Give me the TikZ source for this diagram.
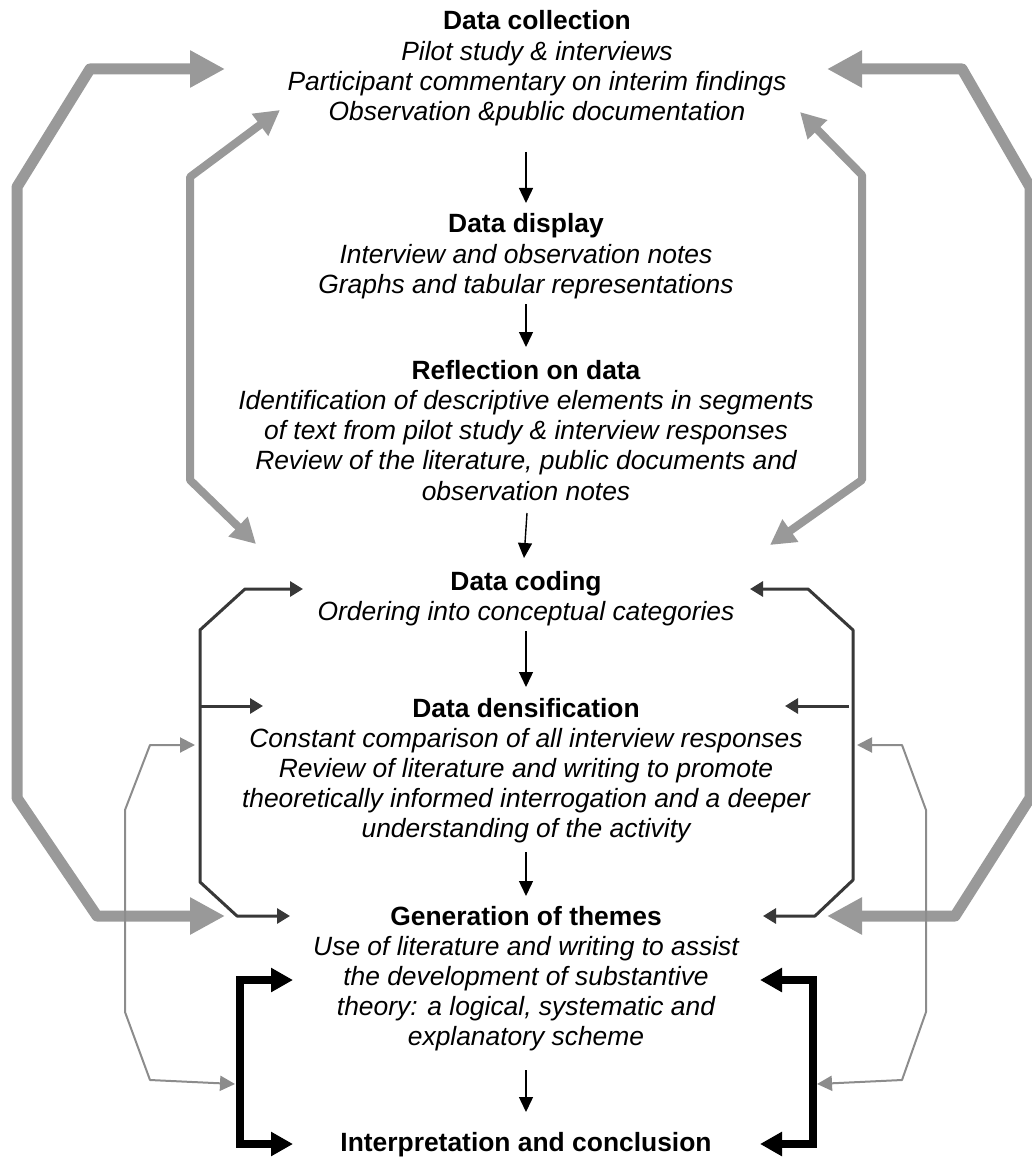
\documentclass[tikz,border=0pt]{standalone}
\usepackage{fontspec}
\setmainfont{Liberation Sans}
\usetikzlibrary{arrows.meta}
\definecolor{loopgray}{HTML}{999999}
\definecolor{thingray}{HTML}{8C8C8C}
\definecolor{darkline}{HTML}{383838}
\begin{document}
\begin{tikzpicture}[x=1pt,y=-1pt,
  head/.style={font=\fontsize{26.4}{30}\selectfont\bfseries, inner sep=0pt, anchor=base},
  body/.style={font=\fontsize{26.4}{30}\selectfont\itshape, inner sep=0pt, anchor=base},
  flow/.style={line width=1.4pt, -{Triangle[length=15pt,width=14pt]}},
  bigloop/.style={draw=loopgray, line width=11pt, line join=round,
    {Triangle[length=35pt,width=35pt]}-{Triangle[length=35pt,width=35pt]}},
  midloop/.style={draw=loopgray, line width=8pt, line join=round,
    {Triangle[length=25pt,width=26pt]}-{Triangle[length=25pt,width=26pt]}},
  thinloop/.style={draw=thingray, line width=2pt, line join=round,
    {Triangle[length=15pt,width=15pt]}-{Triangle[length=15pt,width=15pt]}},
  darkloop/.style={draw=darkline, line width=3pt, line join=round,
    {Triangle[length=13pt,width=15pt]}-{Triangle[length=13pt,width=15pt]}},
  darkbranch/.style={draw=darkline, line width=3pt, -{Triangle[length=13pt,width=15pt]}},
  blackloop/.style={draw=black, line width=8pt, line join=miter,
    {Triangle[length=22pt,width=23pt]}-{Triangle[length=22pt,width=23pt]}}
]
\useasboundingbox (0,0) rectangle (1032,1158);

% ---- stages ----
\node[head] (dc)  at (537,30)  {Data collection};
\node[body] (dc1) at (537,61)  {Pilot study \& interviews};
\node[body] (dc2) at (537,91)  {Participant commentary on interim findings};
\node[body] (dc3) at (537,121) {Observation \&public documentation};

\node[head] (dd)  at (526,233) {Data display};
\node[body] (dd1) at (526,263) {Interview and observation notes};
\node[body] (dd2) at (526,293) {Graphs and tabular representations};

\node[head] (rd)  at (526,379) {Reflection on data};
\node[body] (rd1) at (526,409) {Identification of descriptive elements in segments};
\node[body] (rd2) at (526,439) {of text from pilot study \& interview responses};
\node[body] (rd3) at (526,469) {Review of the literature, public documents and};
\node[body] (rd4) at (526,500) {observation notes};

\node[head] (co)  at (526,590) {Data coding};
\node[body] (co1) at (526,620) {Ordering into conceptual categories};

\node[head] (de)  at (526,717) {Data densification};
\node[body] (de1) at (526,747) {Constant comparison of all interview responses};
\node[body] (de2) at (526,777) {Review of literature and writing to promote};
\node[body] (de3) at (526,807) {theoretically informed interrogation and a deeper};
\node[body] (de4) at (526,837) {understanding of the activity};

\node[head] (gt)  at (526,925)  {Generation of themes};
\node[body] (gt1) at (526,955)  {Use of literature and writing to assist};
\node[body] (gt2) at (526,985)  {the development of substantive};
\node[body] (gt3) at (526,1015) {theory: a logical, systematic and};
\node[body] (gt4) at (526,1045) {explanatory scheme};

\node[head] (ic)  at (526,1151) {Interpretation and conclusion};

% ---- main sequence ----
\coordinate (s1a) at (526,152);  \coordinate (s1b) at (526,203);
\coordinate (s2a) at (526,304);  \coordinate (s2b) at (526,347);
\coordinate (s3a) at (527,513);  \coordinate (s3b) at (524,558);
\coordinate (s4a) at (526,631);  \coordinate (s4b) at (526,687);
\coordinate (s5a) at (526,852);  \coordinate (s5b) at (526,896);
\coordinate (s6a) at (526,1070); \coordinate (s6b) at (526,1112);
\foreach \a/\b in {s1a/s1b,s2a/s2b,s3a/s3b,s4a/s4b,s5a/s5b,s6a/s6b}
  \draw[flow] (\a) -- (\b);

% ---- outer loop: themes back to data collection ----
\coordinate (ol1) at (225,69);  \coordinate (ol2) at (90,69);
\coordinate (ol3) at (17,187);  \coordinate (ol4) at (17,798);
\coordinate (ol5) at (97,916);  \coordinate (ol6) at (225,916);
\draw[bigloop] (ol1) -- (ol2) -- (ol3) -- (ol4) -- (ol5) -- (ol6);
\coordinate (or1) at (827,69);  \coordinate (or2) at (962,69);
\coordinate (or3) at (1030,187); \coordinate (or4) at (1030,798);
\coordinate (or5) at (955,916); \coordinate (or6) at (827,916);
\draw[bigloop] (or1) -- (or2) -- (or3) -- (or4) -- (or5) -- (or6);

% ---- loop: coding back to data collection ----
\coordinate (ml1) at (280,110); \coordinate (ml2) at (190,177);
\coordinate (ml3) at (190,480); \coordinate (ml4) at (256,544);
\draw[midloop] (ml1) -- (ml2) -- (ml3) -- (ml4);
\coordinate (mr1) at (800,112); \coordinate (mr2) at (862,175);
\coordinate (mr3) at (862,480); \coordinate (mr4) at (770,545);
\draw[midloop] (mr1) -- (mr2) -- (mr3) -- (mr4);

% ---- loop: coding, densification, themes ----
\coordinate (dl1) at (303,589); \coordinate (dl2) at (245,589);
\coordinate (dl3) at (200,630); \coordinate (dl4) at (200,882);
\coordinate (dl5) at (237,916); \coordinate (dl6) at (290,916);
\draw[darkloop] (dl1) -- (dl2) -- (dl3) -- (dl4) -- (dl5) -- (dl6);
\coordinate (dlb) at (200,706); \coordinate (dlt) at (263,706);
\draw[darkbranch] (dlb) -- (dlt);
\coordinate (dr1) at (750,589); \coordinate (dr2) at (808,589);
\coordinate (dr3) at (853,630); \coordinate (dr4) at (853,880);
\coordinate (dr5) at (815,916); \coordinate (dr6) at (763,916);
\draw[darkloop] (dr1) -- (dr2) -- (dr3) -- (dr4) -- (dr5) -- (dr6);
\coordinate (drb) at (849,706); \coordinate (drt) at (785,706);
\draw[darkbranch] (drb) -- (drt);

% ---- loop: densification to interpretation ----
\coordinate (tl1) at (195,745);  \coordinate (tl2) at (150,745);
\coordinate (tl3) at (125,810);  \coordinate (tl4) at (125,1012);
\coordinate (tl5) at (150,1080); \coordinate (tl6) at (235,1084);
\draw[thinloop] (tl1) -- (tl2) -- (tl3) -- (tl4) -- (tl5) -- (tl6);
\coordinate (tr1) at (857,745);  \coordinate (tr2) at (902,745);
\coordinate (tr3) at (926,810);  \coordinate (tr4) at (926,1012);
\coordinate (tr5) at (902,1080); \coordinate (tr6) at (817,1084);
\draw[thinloop] (tr1) -- (tr2) -- (tr3) -- (tr4) -- (tr5) -- (tr6);

% ---- bracket: themes and interpretation ----
\coordinate (bl1) at (293,980);  \coordinate (bl2) at (240,980);
\coordinate (bl3) at (240,1144); \coordinate (bl4) at (293,1144);
\draw[blackloop] (bl1) -- (bl2) -- (bl3) -- (bl4);
\coordinate (br1) at (760,980);  \coordinate (br2) at (813,980);
\coordinate (br3) at (813,1144); \coordinate (br4) at (760,1144);
\draw[blackloop] (br1) -- (br2) -- (br3) -- (br4);
\end{tikzpicture}
\end{document}
